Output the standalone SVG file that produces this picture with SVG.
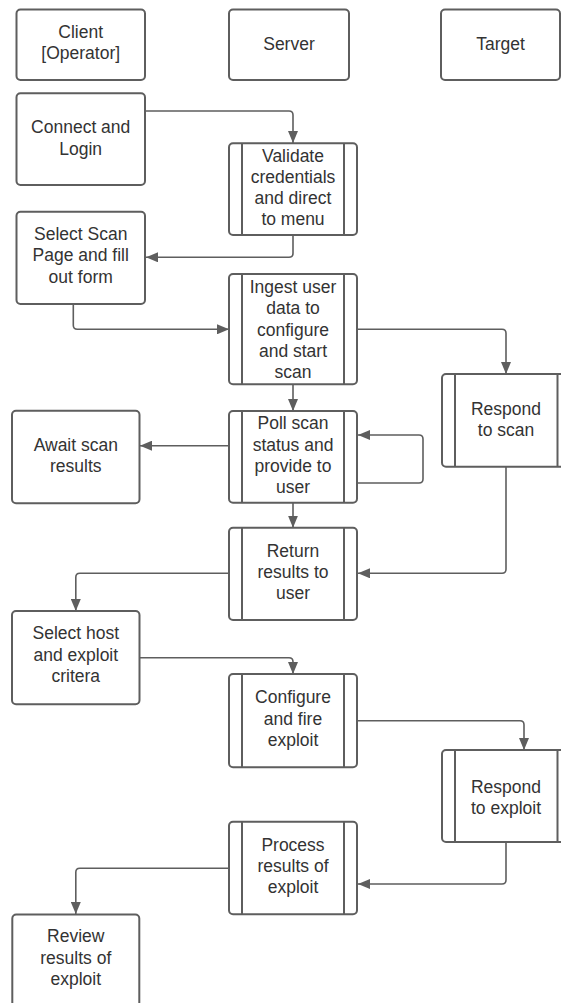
<svg xmlns="http://www.w3.org/2000/svg" width="561" height="1003" viewBox="0 0 561 1003">
<style>
.box{fill:#fff;stroke:#5e5e5e;stroke-width:2}
.inner{stroke:#5e5e5e;stroke-width:2}
.t{font-family:"Liberation Sans",Arial,sans-serif;font-size:17.5px;fill:#333;text-anchor:middle}
.c{fill:none;stroke:#5e5e5e;stroke-width:1.6}
</style>
<defs>
<marker id="ah" viewBox="0 0 12 10" markerWidth="12" markerHeight="10" refX="12" refY="5" orient="auto" markerUnits="userSpaceOnUse">
<path d="M0,0 L12,5 L0,10 Z" fill="#5e5e5e"/>
</marker>
</defs>
<rect width="561" height="1003" fill="#fff"/>
<g id="connectors">
<path class="c" marker-end="url(#ah)" d="M145,111 H289 Q293,111 293,115 V143"/>
<path class="c" marker-end="url(#ah)" d="M293,235 V253.3 Q293,257.3 289,257.3 H146"/>
<path class="c" marker-end="url(#ah)" d="M73.3,304 V325.3 Q73.3,329.3 77.3,329.3 H229"/>
<path class="c" marker-end="url(#ah)" d="M357,329.3 H502 Q506,329.3 506,333.3 V374"/>
<path class="c" marker-end="url(#ah)" d="M293,384.3 V411"/>
<path class="c" marker-end="url(#ah)" d="M229,445.7 H140"/>
<path class="c" marker-end="url(#ah)" d="M357,483 H419 Q423,483 423,479 V439 Q423,435 419,435 H358"/>
<path class="c" marker-end="url(#ah)" d="M293,502.7 V527.7"/>
<path class="c" marker-end="url(#ah)" d="M506,466.7 V569.3 Q506,573.3 502,573.3 H358"/>
<path class="c" marker-end="url(#ah)" d="M229,573.3 H79.8 Q75.8,573.3 75.8,577.3 V611"/>
<path class="c" marker-end="url(#ah)" d="M139.5,657.7 H289 Q293,657.7 293,661.7 V674"/>
<path class="c" marker-end="url(#ah)" d="M357,720.7 H520 Q524,720.7 524,724.7 V750"/>
<path class="c" marker-end="url(#ah)" d="M506,842 V880 Q506,884 502,884 H358"/>
<path class="c" marker-end="url(#ah)" d="M229,868.3 H79.8 Q75.8,868.3 75.8,872.3 V914"/>
</g>
<g id="client">
<rect class="box" x="16.5" y="9.5" width="128.5" height="70.5" rx="4"/>
<text class="t" x="80.7" y="37.7">Client</text>
<text class="t" x="80.7" y="59">[Operator]</text>
</g>
<g id="server">
<rect class="box" x="229" y="9.5" width="120" height="70.5" rx="4"/>
<text class="t" x="289" y="49.5">Server</text>
</g>
<g id="target">
<rect class="box" x="441" y="9.5" width="119" height="70.5" rx="4"/>
<text class="t" x="500.5" y="49.5">Target</text>
</g>
<g id="connect">
<rect class="box" x="16.5" y="93.3" width="128.5" height="91.7" rx="4"/>
<text class="t" x="80.7" y="133.3">Connect and</text>
<text class="t" x="80.7" y="155">Login</text>
</g>
<g id="validate">
<rect class="box" x="229" y="143.3" width="128" height="91.7" rx="4"/>
<line class="inner" x1="242" y1="143.3" x2="242" y2="235"/>
<line class="inner" x1="344" y1="143.3" x2="344" y2="235"/>
<text class="t" x="293" y="162.3">Validate</text>
<text class="t" x="293" y="183.3">credentials</text>
<text class="t" x="293" y="204.3">and direct</text>
<text class="t" x="293" y="225.3">to menu</text>
</g>
<g id="select-scan">
<rect class="box" x="16.5" y="211.7" width="128.5" height="92.3" rx="4"/>
<text class="t" x="80.7" y="240">Select Scan</text>
<text class="t" x="80.7" y="261.3">Page and fill</text>
<text class="t" x="80.7" y="282.5">out form</text>
</g>
<g id="ingest">
<rect class="box" x="229" y="274" width="128" height="110.3" rx="4"/>
<line class="inner" x1="242" y1="274" x2="242" y2="384.3"/>
<line class="inner" x1="344" y1="274" x2="344" y2="384.3"/>
<text class="t" x="293" y="293.3">Ingest user</text>
<text class="t" x="293" y="314.4">data to</text>
<text class="t" x="293" y="335.5">configure</text>
<text class="t" x="293" y="356.6">and start</text>
<text class="t" x="293" y="377.7">scan</text>
</g>
<g id="respond-scan">
<rect class="box" x="442" y="374" width="128" height="92.7" rx="4"/>
<line class="inner" x1="455" y1="374" x2="455" y2="466.7"/>
<line class="inner" x1="557.5" y1="374" x2="557.5" y2="466.7"/>
<text class="t" x="506" y="415">Respond</text>
<text class="t" x="506" y="436">to scan</text>
</g>
<g id="await">
<rect class="box" x="12" y="410.7" width="127.5" height="92.6" rx="4"/>
<text class="t" x="75.8" y="451">Await scan</text>
<text class="t" x="75.8" y="471.7">results</text>
</g>
<g id="poll">
<rect class="box" x="229" y="411" width="128" height="91.7" rx="4"/>
<line class="inner" x1="242" y1="411" x2="242" y2="502.7"/>
<line class="inner" x1="344" y1="411" x2="344" y2="502.7"/>
<text class="t" x="293" y="429.3">Poll scan</text>
<text class="t" x="293" y="450.5">status and</text>
<text class="t" x="293" y="471.7">provide to</text>
<text class="t" x="293" y="492.9">user</text>
</g>
<g id="return">
<rect class="box" x="229" y="527.7" width="128" height="92.3" rx="4"/>
<line class="inner" x1="242" y1="527.7" x2="242" y2="620"/>
<line class="inner" x1="344" y1="527.7" x2="344" y2="620"/>
<text class="t" x="293" y="556.7">Return</text>
<text class="t" x="293" y="577.9">results to</text>
<text class="t" x="293" y="599.1">user</text>
</g>
<g id="select-host">
<rect class="box" x="12" y="611" width="127.5" height="93.3" rx="4"/>
<text class="t" x="75.8" y="639.3">Select host</text>
<text class="t" x="75.8" y="660.5">and exploit</text>
<text class="t" x="75.8" y="681.7">critera</text>
</g>
<g id="configure">
<rect class="box" x="229" y="674" width="128" height="93.3" rx="4"/>
<line class="inner" x1="242" y1="674" x2="242" y2="767.3"/>
<line class="inner" x1="344" y1="674" x2="344" y2="767.3"/>
<text class="t" x="293" y="703.3">Configure</text>
<text class="t" x="293" y="724.5">and fire</text>
<text class="t" x="293" y="745.7">exploit</text>
</g>
<g id="respond-exploit">
<rect class="box" x="442" y="750" width="128" height="92" rx="4"/>
<line class="inner" x1="455" y1="750" x2="455" y2="842"/>
<line class="inner" x1="557.5" y1="750" x2="557.5" y2="842"/>
<text class="t" x="506" y="793.3">Respond</text>
<text class="t" x="506" y="814.3">to exploit</text>
</g>
<g id="process">
<rect class="box" x="229" y="821.7" width="128" height="92.6" rx="4"/>
<line class="inner" x1="242" y1="821.7" x2="242" y2="914.3"/>
<line class="inner" x1="344" y1="821.7" x2="344" y2="914.3"/>
<text class="t" x="293" y="851">Process</text>
<text class="t" x="293" y="872.2">results of</text>
<text class="t" x="293" y="893.4">exploit</text>
</g>
<g id="review">
<rect class="box" x="12.3" y="914.5" width="127" height="92" rx="4"/>
<text class="t" x="75.8" y="942.3">Review</text>
<text class="t" x="75.8" y="963.5">results of</text>
<text class="t" x="75.8" y="984.7">exploit</text>
</g>
</svg>
